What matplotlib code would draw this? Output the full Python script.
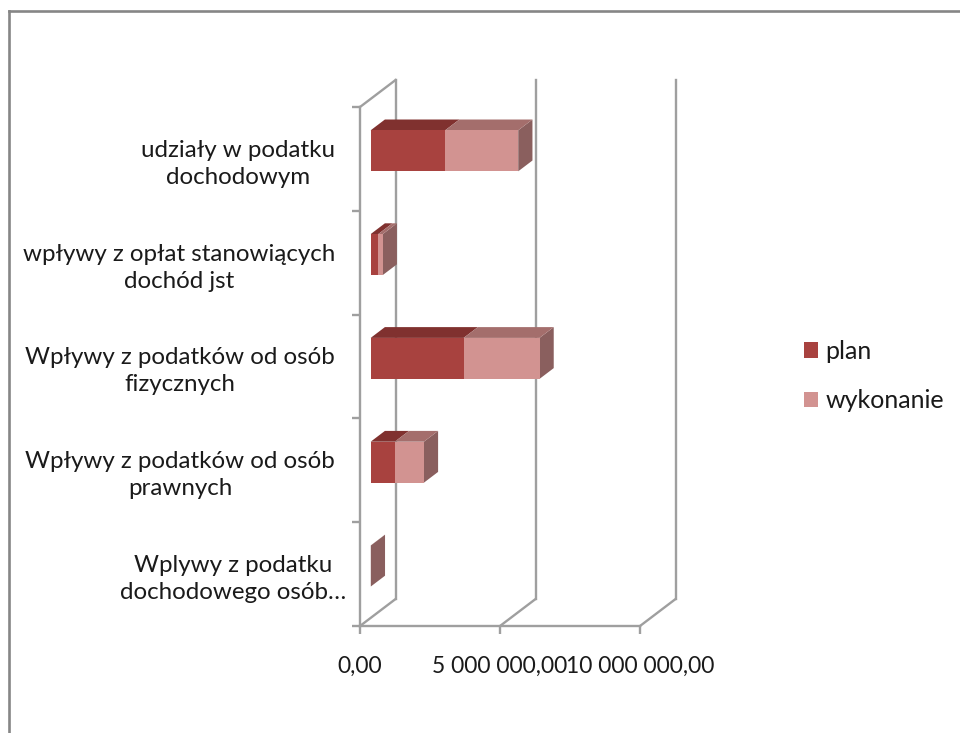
import matplotlib
matplotlib.use('Agg')
import matplotlib.pyplot as plt
from matplotlib.lines import Line2D
from matplotlib.patches import Patch, Polygon

plt.rcParams['font.family'] = ['Lato', 'DejaVu Sans']

# bottom to top, as on the chart axis
categories = ['Wplywy z podatku\ndochodowego osób…',
              'Wpływy z podatków od osób\nprawnych',
              'Wpływy z podatków od osób\nfizycznych',
              'wpływy z opłat stanowiących\ndochód jst',
              'udziały w podatku\ndochodowym']
plan = [3000, 860000, 3320000, 270000, 2660000]
wykonanie = [2000, 1040000, 2710000, 160000, 2610000]
x_ticks = [0, 5000000, 10000000]
x_labels = ['0,00', '5 000 000,00', '10 000 000,00']

# 3d look: how far the back wall sits from the front plane, in data units
DEPTH_X = 1270000
DEPTH_Y = 0.26
BAR_FRONT = 0.3
BAR_BACK = 0.7
BAR_H = 0.395

GRAY = '#9f9f9f'
LW = 1.7
TEXT = '#1a1a1a'
PLAN_COLORS = ('#a8423f', '#80312f')
WYK_COLORS = ('#d29391', '#a46e6c')
SIDE_COLOR = '#8a5f5e'


def proj(x, y, d):
    return (x + d * DEPTH_X, y + d * DEPTH_Y)


def box_part(ax, start, end, y, colors, z):
    low, high = y - BAR_H / 2, y + BAR_H / 2
    front = [proj(start, low, BAR_FRONT), proj(end, low, BAR_FRONT),
             proj(end, high, BAR_FRONT), proj(start, high, BAR_FRONT)]
    top = [proj(start, high, BAR_FRONT), proj(end, high, BAR_FRONT),
           proj(end, high, BAR_BACK), proj(start, high, BAR_BACK)]
    ax.add_patch(Polygon(top, color=colors[1], lw=0, zorder=z, clip_on=False))
    ax.add_patch(Polygon(front, color=colors[0], lw=0, zorder=z, clip_on=False))


fig = plt.figure(figsize=(9.6, 7.33), dpi=100)
ax = fig.add_axes([360 / 960, 1 - 626 / 733, 280 / 960, 519 / 733])
ax.set_xlim(0, 10000000)
ax.set_ylim(0, 5)

# chart frame, runs off the right and bottom of the picture
fig.add_artist(Line2D([9 / 960, 1.01], [1 - 11 / 733] * 2, color='#868686', lw=1.9))
fig.add_artist(Line2D([9 / 960] * 2, [1 - 11 / 733, -0.01], color='#868686', lw=1.9))

# walls
for t in x_ticks:
    ax.plot(*zip(proj(t, 0, 0), proj(t, 0, 1)), color=GRAY, lw=LW, clip_on=False, zorder=1)
    ax.plot(*zip(proj(t, 0, 1), proj(t, 5, 1)), color=GRAY, lw=LW, clip_on=False, zorder=1)
ax.plot(*zip(proj(0, 5, 0), proj(0, 5, 1)), color=GRAY, lw=LW, clip_on=False, zorder=1)

# bars
for i in range(len(categories)):
    y = i + 0.5
    total = plan[i] + wykonanie[i]
    low, high = y - BAR_H / 2, y + BAR_H / 2
    side = [proj(total, low, BAR_FRONT), proj(total, low, BAR_BACK),
            proj(total, high, BAR_BACK), proj(total, high, BAR_FRONT)]
    ax.add_patch(Polygon(side, color=SIDE_COLOR, lw=0, zorder=3, clip_on=False))
    box_part(ax, 0, plan[i], y, PLAN_COLORS, 4)
    box_part(ax, plan[i], total, y, WYK_COLORS, 4)

for s in ['top', 'right']:
    ax.spines[s].set_visible(False)
for s in ['left', 'bottom']:
    ax.spines[s].set_color(GRAY)
    ax.spines[s].set_linewidth(LW)

ax.set_xticks(x_ticks)
ax.set_xticklabels(x_labels)
ax.tick_params(axis='x', color=GRAY, width=LW, length=5.5, pad=16,
               labelsize=16.5, labelcolor=TEXT)

ax.set_yticks(range(6))
ax.set_yticklabels([])
ax.set_yticks([i + 0.5 for i in range(5)], minor=True)
ax.set_yticklabels(categories, minor=True, multialignment='center', linespacing=1.35)
ax.tick_params(axis='y', which='major', color=GRAY, width=LW, length=5.5)
ax.tick_params(axis='y', which='minor', length=0, pad=18, labelsize=17.4, labelcolor=TEXT)
# the truncated label sits closer to the axis
ax.yaxis.get_minor_ticks()[0].set_pad(10)

handles = [Patch(color=PLAN_COLORS[0], lw=0), Patch(color=WYK_COLORS[0], lw=0)]
fig.legend(handles, ['plan', 'wykonanie'], loc='center left',
           bbox_to_anchor=(781 / 960, 1 - 376 / 733), frameon=False, fontsize=18,
           handlelength=0.56, handleheight=0.56, handletextpad=0.32,
           labelspacing=1.05, labelcolor=TEXT)

fig.savefig('out.png', dpi=100)
